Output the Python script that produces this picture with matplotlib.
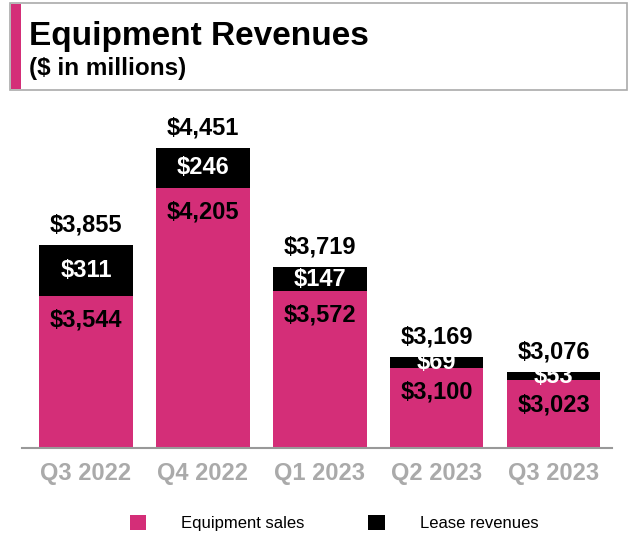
import matplotlib.pyplot as plt
from matplotlib.patches import Rectangle

plt.rcParams['font.family'] = ['Liberation Sans', 'DejaVu Sans']

quarters = ['Q3 2022', 'Q4 2022', 'Q1 2023', 'Q2 2023', 'Q3 2023']
equipment_sales = [3544, 4205, 3572, 3100, 3023]
lease_revenues = [311, 246, 147, 69, 53]
totals = [3855, 4451, 3719, 3169, 3076]

pink = '#d42e78'

fig = plt.figure(figsize=(6.4, 5.41), dpi=100)

# header box
fig.patches.append(Rectangle((10 / 640, 1 - 90 / 541), 617 / 640, 87 / 541,
                             transform=fig.transFigure, facecolor='white',
                             edgecolor='#aaaaaa', linewidth=1.2))
fig.patches.append(Rectangle((11 / 640, 1 - 89 / 541), 10 / 640, 85 / 541,
                             transform=fig.transFigure, facecolor=pink,
                             edgecolor='none'))
fig.text(29 / 640, 1 - 36 / 541, 'Equipment Revenues', fontsize=24,
         fontweight='bold', va='center', ha='left')
fig.text(29 / 640, 1 - 68 / 541, '($ in millions)', fontsize=17.5,
         fontweight='bold', va='center', ha='left')

ax = fig.add_axes([22 / 640, 1 - 448 / 541, 590 / 640, 338 / 541])
x = range(len(quarters))
ax.bar(x, equipment_sales, width=0.8, color=pink, label='Equipment sales')
ax.bar(x, lease_revenues, bottom=equipment_sales, width=0.8, color='black',
       label='Lease revenues')

ax.set_ylim(2608, 4684)
ax.set_xlim(-0.547, 4.5)

for i in x:
    ax.annotate(f'${totals[i]:,}', (i, totals[i]), xytext=(0, 14.5),
                textcoords='offset points', ha='center', va='center',
                fontsize=17, fontweight='bold')
    ax.text(i, equipment_sales[i] + lease_revenues[i] / 2,
            f'${lease_revenues[i]:,}', ha='center', va='center',
            fontsize=17, fontweight='bold', color='white')
    ax.annotate(f'${equipment_sales[i]:,}', (i, equipment_sales[i]),
                xytext=(0, -17.5), textcoords='offset points', ha='center',
                va='center', fontsize=17, fontweight='bold')

ax.set_xticks(list(x))
ax.set_xticklabels(quarters, fontsize=17, fontweight='bold', color='#aaaaaa')
ax.tick_params(axis='x', length=0, pad=10)
ax.set_yticks([])
for s in ['top', 'right', 'left']:
    ax.spines[s].set_visible(False)
ax.spines['bottom'].set_color('#999999')
ax.spines['bottom'].set_linewidth(1.5)

fig.legend(loc='center', bbox_to_anchor=(0.522, 1 - 523 / 541), ncol=2,
           frameon=False, fontsize=12, handlelength=1.0, handleheight=1.0,
           columnspacing=3.8, handletextpad=2.1)

fig.savefig('out.png', dpi=100)
